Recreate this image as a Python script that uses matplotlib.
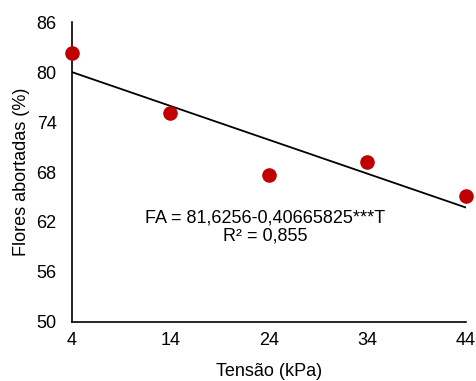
import numpy as np
import matplotlib.pyplot as plt

plt.rcParams['font.family'] = ['Liberation Sans', 'DejaVu Sans']

# tensão (kPa) e flores abortadas (%)
tensao = [4, 14, 24, 34, 44]
flores = [82.3, 75.1, 67.6, 69.2, 65.1]
a, b = 81.6256, -0.40665825
yticks = [50, 56, 62, 68, 74, 80, 86]

fig = plt.figure(figsize=(4.76, 3.81), dpi=100)
ax = fig.add_axes([0.151, 0.155, 0.828, 0.787])

xs = np.array([tensao[0], tensao[-1]])
ax.plot(xs, a + b * xs, color='black', lw=1.3, zorder=2)
ax.scatter(tensao, flores, s=90, color='#c00000', zorder=3, clip_on=False)

ax.text(23.6, 61.4, 'FA = 81,6256-0,40665825***T\nR² = 0,855',
        ha='center', va='center', fontsize=13, linespacing=1.15)

ax.set_xlim(4, 44)
ax.set_ylim(50, 86)
ax.set_xticks(tensao)
ax.set_yticks(yticks)
ax.tick_params(axis='y', length=0, labelsize=13, pad=11)
ax.tick_params(axis='x', length=0, labelsize=13, pad=7)
for s in ['top', 'right']:
    ax.spines[s].set_visible(False)
for s in ['left', 'bottom']:
    ax.spines[s].set_linewidth(1.2)

ax.set_xlabel('Tensão (kPa)', fontsize=13, labelpad=10)
ax.set_ylabel('Flores abortadas (%)', fontsize=13, labelpad=5)

fig.savefig('out.png', dpi=100)
